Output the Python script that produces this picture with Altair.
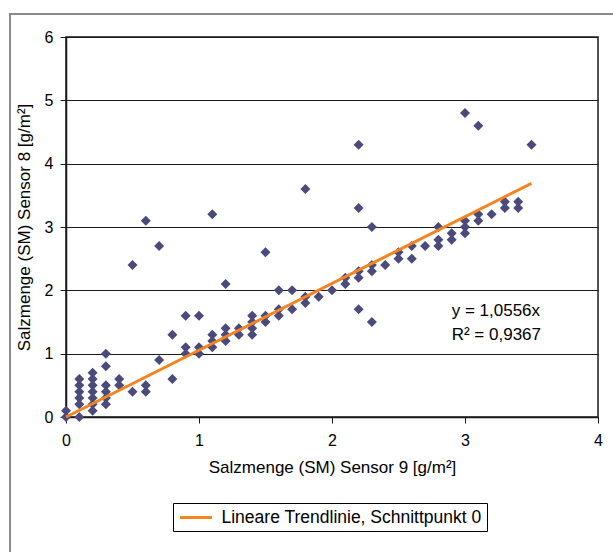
import altair as alt
import pandas as pd

# Scatter data: Salzmenge Sensor 9 (x) vs Sensor 8 (y), g/m²
sensor9 = [0.0, 0.0,
           0.1, 0.1, 0.1, 0.1, 0.1, 0.1,
           0.2, 0.2, 0.2, 0.2, 0.2, 0.2, 0.2,
           0.3, 0.3, 0.3, 0.3, 0.3, 0.3,
           0.4, 0.4,
           0.5, 0.5,
           0.6, 0.6, 0.6,
           0.7, 0.7,
           0.8, 0.8,
           0.9, 0.9, 0.9,
           1.0, 1.0, 1.0,
           1.1, 1.1, 1.1, 1.1,
           1.2, 1.2, 1.2, 1.2,
           1.3, 1.3,
           1.4, 1.4, 1.4, 1.4,
           1.5, 1.5, 1.5,
           1.6, 1.6, 1.6,
           1.7, 1.7,
           1.8, 1.8, 1.8,
           1.9,
           2.0,
           2.1, 2.1,
           2.2, 2.2, 2.2, 2.2, 2.2,
           2.3, 2.3, 2.3, 2.3,
           2.4,
           2.5, 2.5,
           2.6, 2.6,
           2.7,
           2.8, 2.8, 2.8,
           2.9, 2.9,
           3.0, 3.0, 3.0, 3.0,
           3.1, 3.1, 3.1,
           3.2,
           3.3, 3.3,
           3.4, 3.4,
           3.5]
sensor8 = [0.1, 0.0,
           0.6, 0.5, 0.4, 0.3, 0.2, 0.0,
           0.7, 0.6, 0.5, 0.4, 0.3, 0.2, 0.1,
           1.0, 0.8, 0.5, 0.4, 0.3, 0.2,
           0.6, 0.5,
           2.4, 0.4,
           3.1, 0.5, 0.4,
           2.7, 0.9,
           1.3, 0.6,
           1.6, 1.1, 1.0,
           1.6, 1.1, 1.0,
           3.2, 1.3, 1.2, 1.1,
           2.1, 1.4, 1.3, 1.2,
           1.4, 1.3,
           1.6, 1.5, 1.4, 1.3,
           2.6, 1.6, 1.5,
           2.0, 1.7, 1.6,
           2.0, 1.7,
           3.6, 1.9, 1.8,
           1.9,
           2.0,
           2.2, 2.1,
           4.3, 3.3, 2.3, 2.2, 1.7,
           3.0, 2.4, 2.3, 1.5,
           2.4,
           2.6, 2.5,
           2.7, 2.5,
           2.7,
           3.0, 2.8, 2.7,
           2.9, 2.8,
           4.8, 3.1, 3.0, 2.9,
           4.6, 3.2, 3.1,
           3.2,
           3.4, 3.3,
           3.4, 3.3,
           4.3]

# Linear trend line through origin (endpoints)
trend_x = [0.0, 3.5]
trend_y = [0.0, 3.69]
trend_label = "Lineare Trendlinie, Schnittpunkt 0"

# Regression annotation
ann_text = ["y = 1,0556x", "R² = 0,9367"]
ann_x = [2.9, 2.9]
ann_y = [1.67, 1.29]

FONT = "Liberation Sans"
BLUE = "#4a4a7c"
ORANGE = "#f5841f"
DARK = "#1a1a1a"

pts = pd.DataFrame({"x": sensor9, "y": sensor8})
trend = pd.DataFrame({"x": trend_x, "y": trend_y, "s": [trend_label] * len(trend_x)})
ann = pd.DataFrame({"x": ann_x, "y": ann_y, "t": ann_text})

xscale = alt.Scale(domain=[0, 4], nice=False, zero=True)
yscale = alt.Scale(domain=[0, 6], nice=False, zero=True)

xaxis = alt.Axis(values=[0, 1, 2, 3, 4], format="d", grid=False, labelFlush=False,
                 title="Salzmenge (SM) Sensor 9 [g/m²]",
                 titleX=266, titleY=50, titleBaseline="middle", titleAlign="center",
                 labelPadding=9, tickSize=6)
yaxis = alt.Axis(values=[0, 1, 2, 3, 4, 5, 6], format="d", grid=True, labelFlush=False,
                 title="Salzmenge (SM) Sensor 8 [g/m²]",
                 titleX=-42, titleY=190, titleAngle=270, titleBaseline="middle", titleAlign="center",
                 labelPadding=7, tickSize=6)

frame = alt.Chart(pd.DataFrame({"k": [0]})).mark_rect(
    filled=False, stroke="#8a8a8a", strokeWidth=2
).encode(x=alt.value(-56), x2=alt.value(640), y=alt.value(-23), y2=alt.value(600))

points = alt.Chart(pts).mark_point(
    shape="diamond", filled=True, size=100, color=BLUE, opacity=1, strokeWidth=0
).encode(
    x=alt.X("x:Q", scale=xscale, axis=xaxis),
    y=alt.Y("y:Q", scale=yscale, axis=yaxis),
)

line = alt.Chart(trend).mark_line(strokeWidth=3).encode(
    x=alt.X("x:Q", scale=xscale),
    y=alt.Y("y:Q", scale=yscale),
    color=alt.Color("s:N", scale=alt.Scale(domain=[trend_label], range=[ORANGE]),
                    legend=alt.Legend(title=None, orient="none", legendX=107, legendY=466,
                                      direction="horizontal", strokeColor="black",
                                      fillColor="white", padding=5,
                                      symbolType="M-2,0L2,0", symbolSize=256,
                                      symbolStrokeWidth=3, symbolOffset=8.5,
                                      labelFontSize=17.5, labelFont=FONT, labelColor="black",
                                      labelLimit=0, labelOffset=16, cornerRadius=0)),
)

text = alt.Chart(ann).mark_text(align="left", baseline="middle", fontSize=17, font=FONT,
                                color="black").encode(
    x=alt.X("x:Q", scale=xscale),
    y=alt.Y("y:Q", scale=yscale),
    text="t:N",
)

chart = alt.layer(frame, points, line, text).properties(
    width=532, height=380,
    autosize=alt.AutoSizeParams(type="none"),
    padding={"left": 66, "top": 37, "right": 15, "bottom": 135},
    background="white",
).configure_view(stroke=DARK, strokeWidth=1.5).configure_axis(
    labelFont=FONT, titleFont=FONT, labelFontSize=16, titleFontSize=17,
    labelColor="black", titleColor="black", titleFontWeight="normal",
    domainColor=DARK, domainWidth=1.5, tickColor=DARK, tickWidth=1,
    gridColor=DARK, gridWidth=1.2, gridOpacity=1,
)

chart.save("out.html", embed_options={"renderer": "svg", "actions": False})
